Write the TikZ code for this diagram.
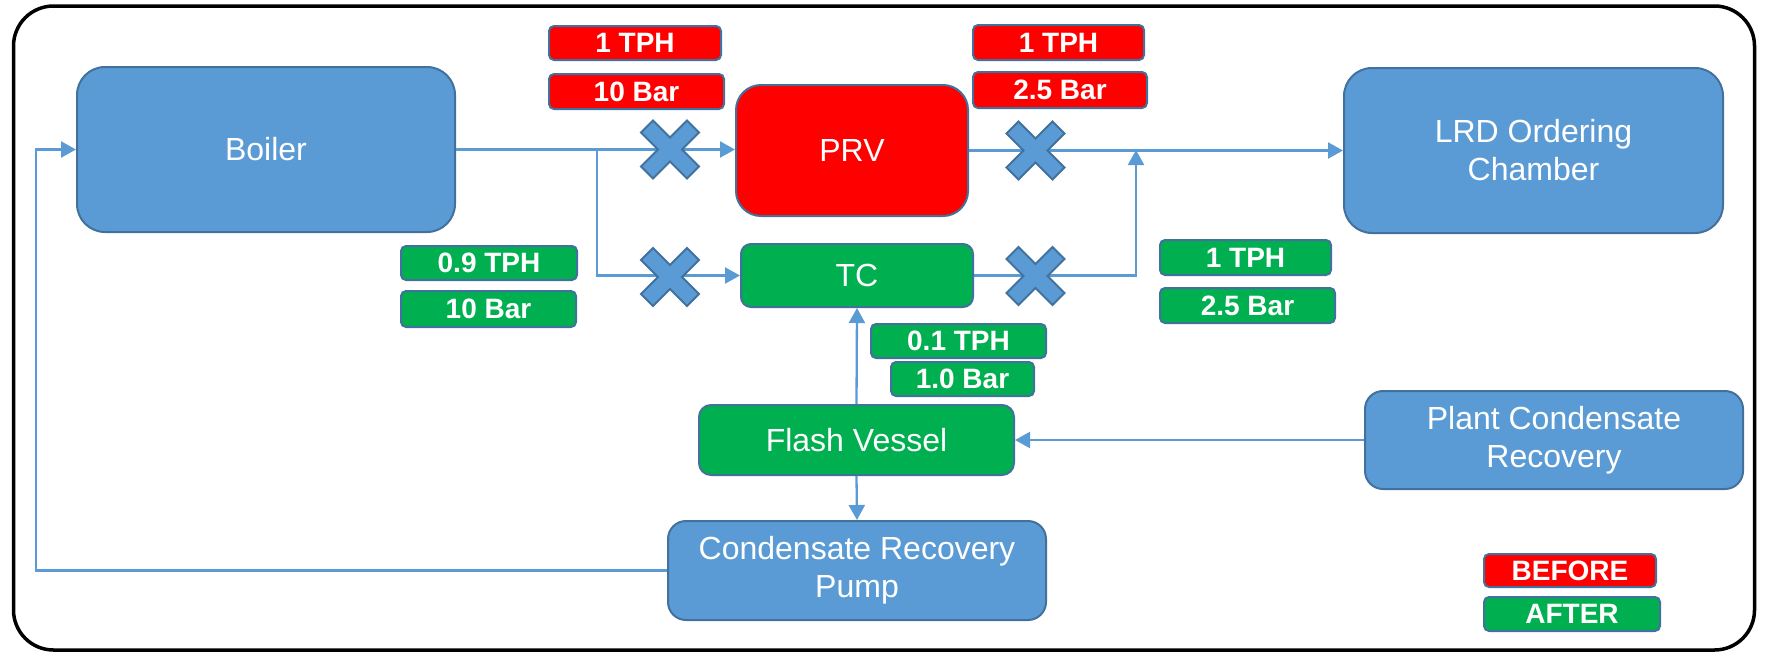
\documentclass[tikz,border=0pt]{standalone}
\usepackage{fontspec}
\setmainfont{Liberation Sans}
\usetikzlibrary{arrows.meta}
\definecolor{boxblue}{HTML}{5B9BD5}
\definecolor{edgeblue}{HTML}{41719C}
\definecolor{bred}{HTML}{FF0000}
\definecolor{agreen}{HTML}{00B050}
\tikzset{
  unit/.style={draw=edgeblue, line width=2pt, text=white, align=center, inner sep=0pt,
    font=\fontsize{32}{38}\selectfont},
  bluebox/.style={unit, fill=boxblue},
  redbox/.style={unit, fill=bred},
  greenbox/.style={unit, fill=agreen},
  tag/.style={draw=edgeblue, line width=2pt, rounded corners=5pt, text=white, inner sep=0pt,
    font=\fontsize{28}{32}\selectfont\bfseries},
  redtag/.style={tag, fill=bred},
  greentag/.style={tag, fill=agreen},
  pipe/.style={draw=boxblue, line width=2.3pt},
  flow/.style={pipe, -{Triangle[length=15pt,width=16pt]}},
  valve/.style={fill=boxblue, draw=edgeblue, line width=2pt, line join=miter},
}
\newcommand\valvecross[1]{%
  \draw[valve, shift={#1}] (-17,-29) -- (0,-12) -- (17,-29) -- (29,-17) -- (12,0) -- (29,17)
    -- (17,29) -- (0,12) -- (-17,29) -- (-29,17) -- (-12,0) -- (-29,-17) -- cycle;}
\begin{document}
\begin{tikzpicture}[x=1pt, y=-1pt]
\useasboundingbox (0,0) rectangle (1769,654);
% frame
\draw[line width=3.5pt, rounded corners=40pt] (13.5,6) rectangle (1754.5,650);

% main units
\node[bluebox, rounded corners=28pt, minimum width=378pt, minimum height=165pt] (boiler) at (266,149.5) {Boiler};
\node[redbox, rounded corners=25pt, minimum width=232pt, minimum height=131pt] (prv) at (852,150.5) {PRV};
\node[greenbox, rounded corners=10pt, minimum width=232pt, minimum height=63pt] (tc) at (857,275.5) {TC};
\node[bluebox, rounded corners=28pt, minimum width=379pt, minimum height=165pt] (lrd) at (1533.5,150.5) {LRD Ordering\\Chamber};
\node[greenbox, rounded corners=12pt, minimum width=315pt, minimum height=70pt] (fv) at (856.5,440) {Flash Vessel};
\node[bluebox, rounded corners=18pt, minimum width=378pt, minimum height=99pt] (crp) at (857,570.5) {Condensate Recovery\\Pump};
\node[bluebox, rounded corners=18pt, minimum width=378pt, minimum height=98pt] (pcr) at (1554,440) {Plant Condensate\\Recovery};

% tags
\node[redtag, minimum width=172pt, minimum height=34pt] (r1) at (635,43) {1 TPH};
\node[redtag, minimum width=175pt, minimum height=35pt] (r2) at (636.5,91.5) {10 Bar};
\node[redtag, minimum width=171pt, minimum height=35pt] (r3) at (1058.5,42.5) {1 TPH};
\node[redtag, minimum width=174pt, minimum height=36pt] (r4) at (1060,90) {2.5 Bar};
\node[greentag, minimum width=176pt, minimum height=34pt] (g1) at (489,263) {0.9 TPH};
\node[greentag, minimum width=175pt, minimum height=36pt] (g2) at (488.5,309) {10 Bar};
\node[greentag, minimum width=171pt, minimum height=35pt] (g3) at (1245.5,257.5) {1 TPH};
\node[greentag, minimum width=175pt, minimum height=35pt] (g4) at (1247.5,305.5) {2.5 Bar};
\node[greentag, minimum width=175pt, minimum height=34pt] (g5) at (958.5,341) {0.1 TPH};
\node[greentag, minimum width=143pt, minimum height=34pt] (g6) at (962.5,379) {1.0 Bar};
\node[redtag, minimum width=172pt, minimum height=33pt] (before) at (1570,570.5) {BEFORE};
\node[greentag, minimum width=176pt, minimum height=34pt] (after) at (1572,614) {AFTER};

% connectors
\coordinate (j1) at (597,149.5);
\coordinate (j2) at (1136,150);
\coordinate (c1) at (36,570.5);
\draw[flow] (boiler.east) -- (boiler.east -| prv.west);
\draw[flow] (j1) |- (tc.west);
\draw[flow] (prv.east |- lrd.west) -- (lrd.west);
\draw[flow] (tc.east) -| (j2);
\draw[flow] (fv.north) -- (tc.south);
\draw[flow] (fv.south) -- (crp.north);
\draw[flow] (pcr.west) -- (fv.east);
\draw[flow] (crp.west) -- (c1) |- (boiler.west);

% valves
\valvecross{(670,149.5)}
\valvecross{(670,277)}
\valvecross{(1035.5,150.5)}
\valvecross{(1035.5,276)}
\end{tikzpicture}
\end{document}
